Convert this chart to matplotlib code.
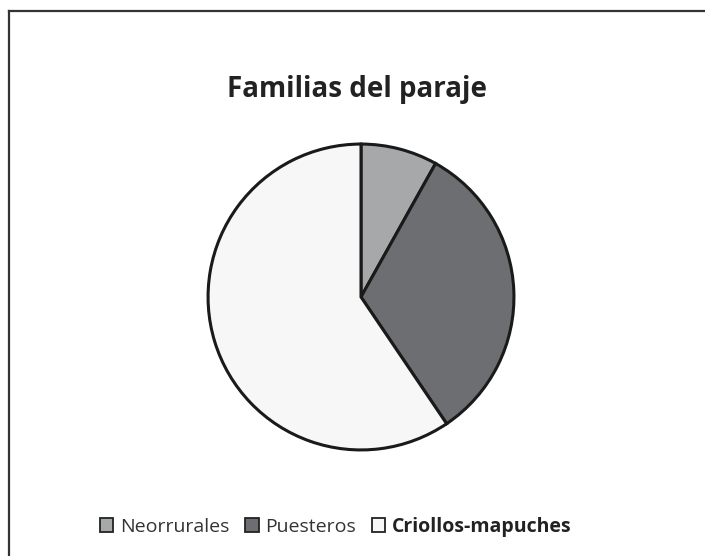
import matplotlib
matplotlib.use("Agg")
import matplotlib.pyplot as plt
from matplotlib.lines import Line2D
from matplotlib.patches import Patch

categories = ["Neorrurales", "Puesteros", "Criollos-mapuches"]
values = [3, 12, 22]
colors = ["#a7a8aa", "#6d6e71", "#f7f7f7"]
title = "Familias del paraje"

plt.rcParams['font.family'] = ['Open Sans', 'DejaVu Sans']

W, H = 705, 556
fig = plt.figure(figsize=(W / 100, H / 100), dpi=100)
fig.patch.set_facecolor("white")

# outer frame (only left and top edges are visible)
fx, fy = 8.5 / W, 1 - 10.5 / H
fig.add_artist(Line2D([fx, fx], [0, fy], transform=fig.transFigure, color="#333333", linewidth=1.6))
fig.add_artist(Line2D([fx, 1.01], [fy, fy], transform=fig.transFigure, color="#333333", linewidth=1.6))

cx, cy, r = 361, 297, 156
ax = fig.add_axes([(cx - r) / W, (H - cy - r) / H, 2 * r / W, 2 * r / H])
ax.pie(values, colors=colors, startangle=90, counterclock=False,
       wedgeprops=dict(edgecolor="#1a1a1a", linewidth=2.2))
ax.set_aspect("equal")
ax.set_xlim(-1.02, 1.02)
ax.set_ylim(-1.02, 1.02)

fig.text(357 / W, 1 - 89 / H, title, ha="center", va="center",
         fontsize=20, fontweight="bold", color="#222222")

handles = [Patch(facecolor=c, edgecolor="#222222", linewidth=1.3) for c in colors]
leg = fig.legend(handles, categories, loc="center left", bbox_to_anchor=(90 / W, 1 - 527 / H),
                 ncol=3, frameon=False, fontsize=14, handlelength=0.7, handleheight=0.7,
                 handletextpad=0.35, columnspacing=0.8, borderpad=0.0)
for t in leg.get_texts():
    t.set_color("#333333")
leg.get_texts()[2].set_fontweight("bold")
leg.get_texts()[2].set_color("#222222")

fig.savefig("out.png", dpi=100)
